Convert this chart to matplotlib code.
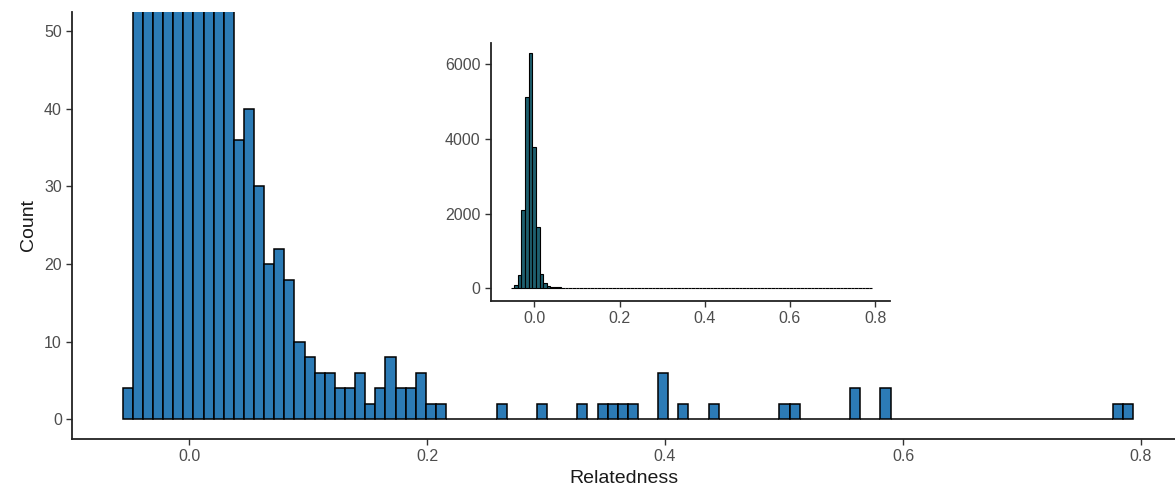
import numpy as np
import matplotlib
matplotlib.use("Agg")
import matplotlib.pyplot as plt

plt.rcParams['font.family'] = ['Liberation Sans', 'DejaVu Sans']

# histogram: 100 equal bins from first to last edge
bin_lo = -0.0557
bin_hi = 0.7933
n_bins = 100

# counts of the first 32 bins (for the tall ones)
head_counts = [4, 80, 360, 2100, 5120, 6300, 3780, 1650, 380, 150,
               60, 36, 40, 30, 20, 22, 18, 10, 8, 6,
               6, 4, 4, 6, 2, 4, 8, 4, 4, 6,
               2, 2]
# sparse tail: bin index -> count
tail_bins = [37, 41, 45, 47, 48, 49, 50, 53, 55, 58, 65, 66, 72, 75, 98, 99]
tail_counts = [2, 2, 2, 2, 2, 2, 2, 6, 2, 2, 2, 2, 4, 4, 2, 2]

counts = np.zeros(n_bins)
counts[:len(head_counts)] = head_counts
counts[tail_bins] = tail_counts
edges = np.linspace(bin_lo, bin_hi, n_bins + 1)
width = edges[1] - edges[0]

W, H = 1175, 496
fig = plt.figure(figsize=(W / 100, H / 100), dpi=100)

def style(ax, fs=10):
    for s in ['top', 'right']:
        ax.spines[s].set_visible(False)
    for s in ['left', 'bottom']:
        ax.spines[s].set_linewidth(1.3)
        ax.spines[s].set_color('#222222')
    ax.tick_params(colors='#333333', labelcolor='#4D4D4D', labelsize=fs,
                   length=4, width=1.0)

# main panel (zoomed to 0..50)
ax = fig.add_axes([72.4 / W, 1 - 438.7 / H, (W - 72.4) / W, (438.7 - 11.9) / H])
ax.bar(edges[:-1], counts, width=width, align='edge', color='#2C7BB6',
       edgecolor='black', linewidth=1.1)
ax.set_xlim(-0.098, (W - 189) / 1190)
ax.set_ylim(-2.5, 52.5)
ax.set_xticks([0.0, 0.2, 0.4, 0.6, 0.8])
ax.set_yticks([0, 10, 20, 30, 40, 50])
ax.xaxis.set_major_formatter(matplotlib.ticker.FormatStrFormatter('%.1f'))
style(ax, 11.5)
ax.set_xlabel('Relatedness', fontsize=14, color='#1a1a1a', labelpad=4)
ax.set_ylabel('Count', fontsize=14, color='#1a1a1a', labelpad=5)

# inset with full counts
ins = fig.add_axes([491 / W, 1 - 300.5 / H, (890 - 491) / W, (300.5 - 42.7) / H])
ins.bar(edges[:-1], counts, width=width, align='edge', color='#1E5F6E',
        edgecolor='black', linewidth=0.8)
ins.set_xlim(-0.1017, 0.8347)
ins.set_ylim(-326, 6576)
ins.set_xticks([0.0, 0.2, 0.4, 0.6, 0.8])
ins.set_yticks([0, 2000, 4000, 6000])
ins.xaxis.set_major_formatter(matplotlib.ticker.FormatStrFormatter('%.1f'))
style(ins, 11.5)
ins.patch.set_alpha(0)

fig.savefig('out.png', dpi=100)
